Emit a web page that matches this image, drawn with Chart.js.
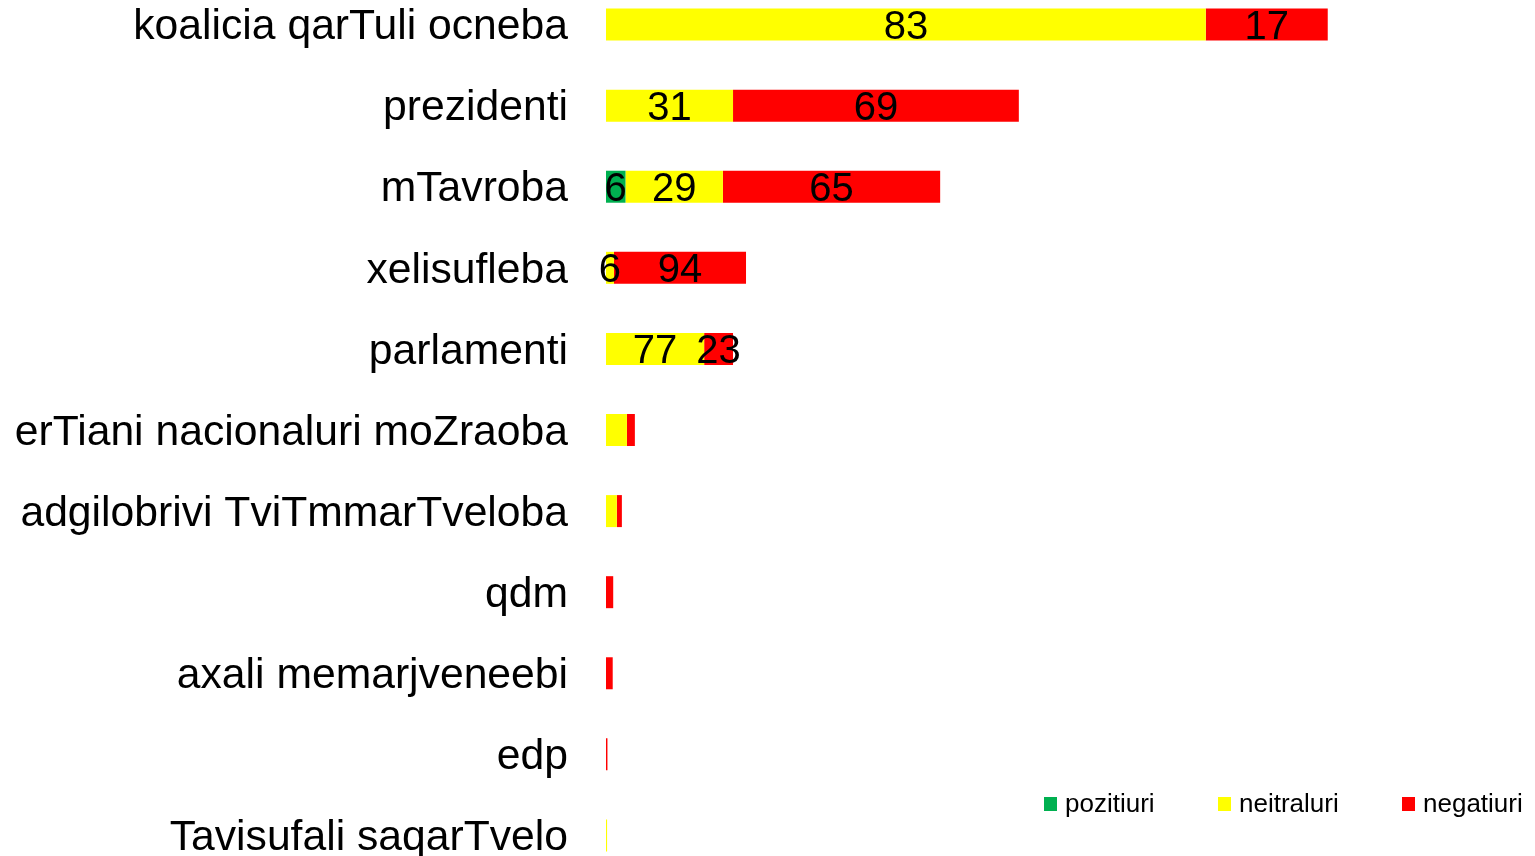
<!DOCTYPE html>
<html>
<head>
<meta charset="utf-8">
<script src="https://cdn.jsdelivr.net/npm/chart.js@4.4.1/dist/chart.umd.min.js"></script>
<style>
  html, body { margin: 0; padding: 0; background: #fff; overflow: hidden; }
  .frame { position: relative; width: 1535px; height: 856px; overflow: hidden; }
  .wrap { position: absolute; left: 0; top: -16px; width: 1535px; height: 892px; }
</style>
</head>
<body>
<div class="frame"><div class="wrap"><canvas id="chart"></canvas></div></div>
<script>
  const categories = [
    "koalicia qarTuli ocneba", "prezidenti", "mTavroba", "xelisufleba", "parlamenti",
    "erTiani nacionaluri moZraoba", "adgilobrivi TviTmmarTveloba", "qdm",
    "axali memarjveneebi", "edp", "Tavisufali saqarTvelo"
  ];
  const seriesNames = ["pozitiuri", "neitraluri", "negatiuri"];

  // bar lengths (share of mentions)
  const positive = [0, 0, 2.7, 0, 0, 0, 0, 0, 0, 0, 0];
  const neutral = [83.1, 17.6, 13.5, 1.1, 13.6, 2.9, 1.5, 0, 0, 0, 0.15];
  const negative = [16.9, 39.6, 30.1, 18.3, 4.0, 1.1, 0.7, 1.0, 0.93, 0.2, 0];

  // percentage labels printed on the bars
  const positiveLabels = [null, null, 6, null, null, null, null, null, null, null, null];
  const neutralLabels = [83, 31, 29, 6, 77, null, null, null, null, null, null];
  const negativeLabels = [17, 69, 65, 94, 23, null, null, null, null, null, null];

  const colors = ["#00B050", "#FFFF00", "#FF0000"];
  const font = "'Liberation Sans', Arial, sans-serif";

  const barLabels = {
    id: "barLabels",
    afterDatasetsDraw(chart) {
      const ctx = chart.ctx;
      const allLabels = [positiveLabels, neutralLabels, negativeLabels];
      ctx.save();
      ctx.font = "40px " + font;
      ctx.fillStyle = "#000";
      ctx.textAlign = "center";
      ctx.textBaseline = "middle";
      chart.data.datasets.forEach((ds, di) => {
        const meta = chart.getDatasetMeta(di);
        meta.data.forEach((bar, i) => {
          const txt = allLabels[di][i];
          if (txt === null) return;
          const cx = (bar.x + bar.base) / 2;
          ctx.fillText(String(txt), cx, bar.y + 3);
        });
      });
      ctx.restore();
    }
  };

  const cornerLegend = {
    id: "cornerLegend",
    afterDraw(chart) {
      const ctx = chart.ctx;
      const boxX = [1044, 1218, 1402];
      const y = 821;
      ctx.save();
      ctx.font = "26px " + font;
      ctx.textAlign = "left";
      ctx.textBaseline = "middle";
      seriesNames.forEach((name, i) => {
        ctx.fillStyle = colors[i];
        ctx.fillRect(boxX[i], y - 8, 13, 14);
        ctx.fillStyle = "#000";
        ctx.fillText(name, boxX[i] + 21, y);
      });
      ctx.restore();
    }
  };

  new Chart(document.getElementById("chart"), {
    type: "bar",
    data: {
      labels: categories,
      datasets: [
        { label: seriesNames[0], data: positive, backgroundColor: colors[0] },
        { label: seriesNames[1], data: neutral, backgroundColor: colors[1] },
        { label: seriesNames[2], data: negative, backgroundColor: colors[2] }
      ]
    },
    options: {
      indexAxis: "y",
      responsive: true,
      maintainAspectRatio: false,
      animation: false,
      layout: { padding: { left: 0, right: 16, top: 0, bottom: 0 } },
      datasets: { bar: { barThickness: 32, borderWidth: 0, inflateAmount: 0 } },
      plugins: {
        legend: { display: false },
        tooltip: { enabled: false }
      },
      scales: {
        x: { stacked: true, display: false, min: 0, max: 126.5 },
        y: {
          stacked: true,
          grid: { display: false, drawTicks: false },
          border: { display: false },
          ticks: { color: "#000", padding: 38, labelOffset: 3, font: { family: font, size: 42.67 } },
          afterFit(scale) {
            scale.width = 606;
            scale.paddingTop = 0;
            scale.paddingBottom = 0;
          }
        }
      }
    },
    plugins: [barLabels, cornerLegend]
  });
</script>
</body>
</html>
